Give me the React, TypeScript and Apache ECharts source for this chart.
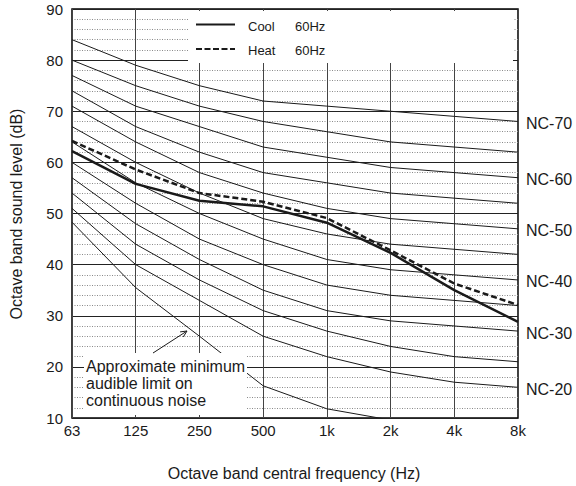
import React, { useEffect, useRef } from "react";
import * as echarts from "echarts";

const freqs = ["63", "125", "250", "500", "1k", "2k", "4k", "8k"];
const yTicks = { min: 10, max: 90, interval: 10 };

const nc70 = [84, 79, 75, 72, 71, 70, 69, 68];
const nc65 = [80, 75, 71, 68, 66, 64, 63, 62];
const nc60 = [77, 71, 67, 63, 61, 59, 58, 57];
const nc55 = [74, 67, 62, 58, 56, 54, 53, 52];
const nc50 = [71, 64, 58, 54, 51, 49, 48, 47];
const nc45 = [67, 60, 54, 49, 46, 44, 43, 42];
const nc40 = [64, 56, 50, 45, 41, 39, 38, 37];
const nc35 = [60, 52, 45, 40, 36, 34, 33, 32];
const nc30 = [57, 48, 41, 35, 31, 29, 28, 27];
const nc25 = [54, 44, 37, 31, 27, 24, 22, 21];
const nc20 = [51, 40, 33, 26, 22, 19, 17, 16];
const threshold = [48.3, 35.5, 26, 16.3, 11.8, 9.6, null, null];

const cool = [62.2, 55.8, 52.5, 51.4, 48.2, 42.3, 35.0, 28.8];
const heat = [64.2, 58.6, 54.0, 52.3, 49.1, 42.8, 36.3, 32.1];

const ncCurves: { name: string; data: number[]; label: boolean }[] = [
  { name: "NC-70", data: nc70, label: true },
  { name: "NC-65", data: nc65, label: false },
  { name: "NC-60", data: nc60, label: true },
  { name: "NC-55", data: nc55, label: false },
  { name: "NC-50", data: nc50, label: true },
  { name: "NC-45", data: nc45, label: false },
  { name: "NC-40", data: nc40, label: true },
  { name: "NC-35", data: nc35, label: false },
  { name: "NC-30", data: nc30, label: true },
  { name: "NC-25", data: nc25, label: false },
  { name: "NC-20", data: nc20, label: true },
];

const FONT = "'Liberation Sans', Arial, Helvetica, sans-serif";
const INK = "#1a1a1a";

export default function App() {
  const ref = useRef<HTMLDivElement>(null);

  useEffect(() => {
    if (!ref.current) return;
    const chart = echarts.init(ref.current, undefined, { renderer: "svg" });

    const ncSeries = ncCurves.map((c) => ({
      type: "line",
      name: c.name,
      data: c.data,
      symbol: "none",
      silent: true,
      lineStyle: { color: INK, width: 1 },
      z: 2,
      endLabel: c.label
        ? {
            show: true,
            formatter: c.name,
            color: INK,
            fontSize: 16,
            fontFamily: FONT,
            distance: 8,
            offset: [0, 2],
          }
        : { show: false },
    }));

    const arrowTip = [187, 331];
    const arrowTail = [153, 353];

    chart.setOption({
      animation: false,
      backgroundColor: "#fff",
      textStyle: { fontFamily: FONT },
      grid: {
        left: 72,
        right: 58,
        top: 9,
        bottom: 68,
        show: true,
        borderColor: "#000",
        borderWidth: 1.5,
        containLabel: false,
      },
      xAxis: {
        type: "category",
        data: freqs,
        boundaryGap: false,
        axisLine: { show: false },
        axisTick: { show: false },
        axisLabel: { color: INK, fontSize: 15, fontFamily: FONT, margin: 5 },
        splitLine: { show: true, lineStyle: { color: "#444", width: 1 } },
      },
      yAxis: {
        type: "value",
        min: yTicks.min,
        max: yTicks.max,
        interval: yTicks.interval,
        axisLine: { show: false },
        axisTick: { show: false },
        axisLabel: { color: INK, fontSize: 15, fontFamily: FONT, margin: 9 },
        splitLine: { show: true, lineStyle: { color: "#222", width: 1 } },
        minorTick: { show: false, splitNumber: 5 },
        minorSplitLine: {
          show: true,
          lineStyle: { color: "#8a8a8a", width: 1, type: [1, 1.5] },
        },
      },
      series: [
        ...ncSeries,
        {
          type: "line",
          name: "threshold",
          data: threshold,
          symbol: "none",
          silent: true,
          clip: true,
          lineStyle: { color: INK, width: 1 },
          z: 2,
        },
        {
          type: "line",
          name: "Cool 60Hz",
          data: cool,
          symbol: "none",
          lineStyle: { color: INK, width: 2.5 },
          z: 3,
        },
        {
          type: "line",
          name: "Heat 60Hz",
          data: heat,
          symbol: "none",
          lineStyle: { color: INK, width: 2.5, type: [6, 3] },
          z: 3,
        },
      ],
      graphic: [
        // legend box
        {
          type: "rect",
          z: 50,
          shape: { x: 188, y: 11, width: 325, height: 52 },
          style: { fill: "#fff" },
        },
        {
          type: "line",
          z: 51,
          shape: { x1: 196, y1: 24.5, x2: 235, y2: 24.5 },
          style: { stroke: INK, lineWidth: 2 },
        },
        {
          type: "line",
          z: 51,
          shape: { x1: 196, y1: 49, x2: 235, y2: 49 },
          style: { stroke: INK, lineWidth: 2, lineDash: [6, 2.5] },
        },
        {
          type: "text",
          z: 51,
          x: 248,
          y: 26.5,
          style: { text: "Cool", fill: INK, font: `13px ${FONT}`, textVerticalAlign: "middle" },
        },
        {
          type: "text",
          z: 51,
          x: 295,
          y: 26.5,
          style: { text: "60Hz", fill: INK, font: `13px ${FONT}`, textVerticalAlign: "middle" },
        },
        {
          type: "text",
          z: 51,
          x: 248,
          y: 50.5,
          style: { text: "Heat", fill: INK, font: `13px ${FONT}`, textVerticalAlign: "middle" },
        },
        {
          type: "text",
          z: 51,
          x: 295,
          y: 50.5,
          style: { text: "60Hz", fill: INK, font: `13px ${FONT}`, textVerticalAlign: "middle" },
        },
        // annotation box
        {
          type: "rect",
          z: 50,
          shape: { x: 84, y: 353, width: 163, height: 62 },
          style: { fill: "#fff" },
        },
        {
          type: "text",
          z: 51,
          x: 86,
          y: 366.5,
          style: {
            text: "Approximate minimum",
            fill: INK,
            font: `16px ${FONT}`,
            textVerticalAlign: "middle",
          },
        },
        {
          type: "text",
          z: 51,
          x: 86,
          y: 383.3,
          style: {
            text: "audible limit on",
            fill: INK,
            font: `16px ${FONT}`,
            textVerticalAlign: "middle",
          },
        },
        {
          type: "text",
          z: 51,
          x: 86,
          y: 400,
          style: {
            text: "continuous noise",
            fill: INK,
            font: `16px ${FONT}`,
            textVerticalAlign: "middle",
          },
        },
        // arrow
        {
          type: "line",
          z: 51,
          shape: { x1: arrowTail[0], y1: arrowTail[1], x2: arrowTip[0], y2: arrowTip[1] },
          style: { stroke: INK, lineWidth: 1 },
        },
        {
          type: "polyline",
          z: 51,
          shape: {
            points: [
              [arrowTip[0] - 6.9, arrowTip[1] + 0.9],
              [arrowTip[0], arrowTip[1]],
              [arrowTip[0] - 3.7, arrowTip[1] + 5.9],
            ],
          },
          style: { stroke: INK, lineWidth: 1, fill: "none" },
        },
        // axis titles
        {
          type: "text",
          z: 51,
          x: 16,
          y: 214,
          rotation: Math.PI / 2,
          style: {
            text: "Octave band sound level (dB)",
            fill: INK,
            font: `16px ${FONT}`,
            textAlign: "center",
            textVerticalAlign: "middle",
          },
        },
        {
          type: "text",
          z: 51,
          x: 294,
          y: 473,
          style: {
            text: "Octave band central frequency (Hz)",
            fill: INK,
            font: `16px ${FONT}`,
            textAlign: "center",
            textVerticalAlign: "middle",
          },
        },
      ],
    });

    return () => chart.dispose();
  }, []);

  return (
    <div
      ref={ref}
      style={{ position: "fixed", left: 0, top: 0, width: 576, height: 486, background: "#fff" }}
    />
  );
}
